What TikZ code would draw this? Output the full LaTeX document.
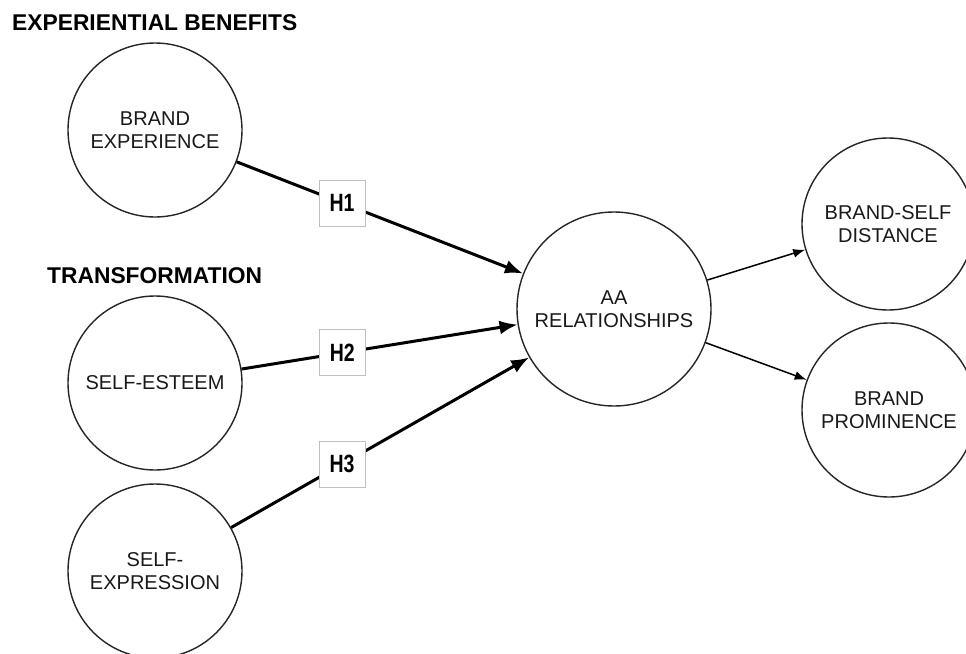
\documentclass[tikz,border=0pt]{standalone}
\usepackage{fontspec}
\setmainfont{Liberation Sans}
\usetikzlibrary{arrows.meta}
\begin{document}
\begin{tikzpicture}[x=1pt,y=-1pt,
  construct/.style={circle, draw=black!85, line width=1.4pt, inner sep=0pt,
    align=center, text=black!90, font=\fontsize{20}{23}\selectfont},
  heading/.style={anchor=base west, inner sep=0pt,
    font=\bfseries\fontsize{22.8}{26}\selectfont},
  hypo/.style={-{Latex[length=18pt,width=14pt]}, line width=3pt},
  effect/.style={-{Latex[length=12pt,width=9pt]}, line width=1.5pt},
  hbox/.style={draw=black!25, line width=0.8pt, fill=white,
    minimum size=46pt, inner sep=0pt, font=\bfseries\fontsize{25}{25}\selectfont}
]
% canvas
\useasboundingbox (0,0) rectangle (966,653);
\clip (0,0) rectangle (966,653);
\fill[white] (0,0) rectangle (966,653);

% group headings
\node[heading] (hexp) at (12,30) {EXPERIENTIAL BENEFITS};
\node[heading] (htra) at (47,283) {TRANSFORMATION};

% constructs
\node[construct, minimum size=174pt] (be)  at (155,130) {BRAND\\EXPERIENCE};
\node[construct, minimum size=174pt] (se)  at (155,383) {SELF-ESTEEM};
\node[construct, minimum size=174pt] (sx)  at (155,571) {SELF-\\EXPRESSION};
\node[construct, minimum size=194pt] (aa)  at (614,309) {AA\\RELATIONSHIPS};
\node[construct, minimum size=172pt] (bsd) at (888,224) {BRAND-SELF\\DISTANCE};
\node[construct, minimum size=174pt] (bp)  at (889,410) {BRAND\\PROMINENCE};

% hypothesised paths
\draw[hypo] (be) -- node[hbox, pos=0.368] (h1) {\scalebox{0.78}[1]{H1}} (aa);
\draw[hypo] (se) -- node[hbox, pos=0.365] (h2) {\scalebox{0.78}[1]{H2}} (aa);
\draw[hypo] (sx) -- node[hbox, pos=0.372] (h3) {\scalebox{0.78}[1]{H3}} (aa);

% outcomes
\draw[effect] (aa) -- (bsd);
\draw[effect] (aa) -- (bp);
\end{tikzpicture}
\end{document}
